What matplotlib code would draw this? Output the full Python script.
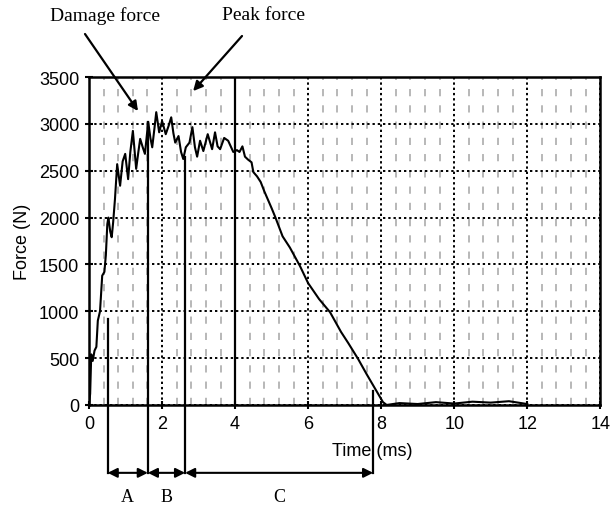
import numpy as np
import matplotlib; matplotlib.use("Agg")
import matplotlib.pyplot as plt

# force trace (time in ms, force in N)
t_ms = [0.0, 0.03, 0.06, 0.10, 0.15, 0.20, 0.24, 0.30, 0.36, 0.42, 0.46, 0.50, 0.53, 0.58, 0.62, 0.66,
        0.71, 0.77, 0.85, 0.92, 0.99, 1.07, 1.13, 1.20, 1.29, 1.35, 1.40, 1.47, 1.53, 1.62, 1.68, 1.73,
        1.79, 1.84, 1.92, 2.00, 2.10, 2.18, 2.25, 2.31, 2.36, 2.45, 2.52, 2.58, 2.65, 2.75, 2.83, 2.90,
        2.96, 3.04, 3.13, 3.25, 3.37, 3.45, 3.52, 3.59, 3.70, 3.81, 3.88, 3.95, 4.05, 4.12, 4.20, 4.27,
        4.35, 4.45, 4.50, 4.60, 4.70, 4.80, 5.00, 5.10, 5.30, 5.50, 5.78, 6.00, 6.30, 6.60, 6.90, 7.10,
        7.37, 7.60, 7.84, 8.05, 8.15, 8.50, 9.00, 9.50, 10.0, 10.5, 11.0, 11.5, 12.0]
force = [0, 120, 540, 470, 580, 620, 900, 1000, 1380, 1420, 1600, 1930, 2000, 1850, 1790, 1950,
         2200, 2570, 2340, 2600, 2680, 2410, 2700, 2925, 2520, 2700, 2840, 2750, 2680, 3020, 2850, 2750,
         2950, 3125, 2910, 3030, 2890, 2980, 3070, 2900, 2800, 2870, 2700, 2625, 2750, 2800, 2965, 2750,
         2650, 2820, 2710, 2890, 2730, 2910, 2760, 2730, 2850, 2820, 2760, 2700, 2720, 2700, 2760, 2650,
         2620, 2590, 2485, 2440, 2380, 2280, 2100, 2005, 1800, 1680, 1480, 1300, 1130, 990, 780, 660,
         490, 330, 170, 30, 0, 20, 10, 30, 15, 35, 25, 40, 10]

# vertical marker lines: (time, force where the line starts)
mark_t = [0.51, 1.61, 2.63, 7.78]
mark_f = [918, 3020, 2650, 150]
seg_labels = ["A", "B", "C"]

fig = plt.figure(figsize=(6.1, 5.1), dpi=100)
ax = fig.add_axes([0.146, 0.204, 0.838, 0.643])
sans = ["Liberation Sans", "DejaVu Sans"]
serif = ["Liberation Serif", "DejaVu Serif"]

# faint scan streaks every 0.4 ms
for x in np.arange(0.4, 14, 0.4):
    if abs(x / 2 - round(x / 2)) > 0.01:
        ax.axvline(x, color="0.45", lw=1.3, ls=(0, (4, 5)), alpha=0.55, zorder=1)
ax.set_xlim(0, 14); ax.set_ylim(0, 3500)
ax.set_xticks(range(0, 15, 2)); ax.set_yticks(range(0, 3501, 500))
ax.grid(True, color="black", ls=(0, (1.2, 1.5)), lw=1.4, zorder=2)
ax.axvline(4, color="black", lw=1.6, zorder=3)
ax.plot(t_ms, force, color="black", lw=1.5, zorder=4)
for s in ax.spines.values(): s.set_linewidth(1.8)
ax.tick_params(direction="inout", length=6, width=1.5, labelsize=13, pad=4)
for lab in ax.get_xticklabels() + ax.get_yticklabels(): lab.set_family(sans)
ax.set_ylabel("Force (N)", fontsize=13, family=sans, labelpad=6)
fig.text(372 / 610, 1 - 452 / 510, "Time (ms)", fontsize=13, family=sans, ha="center", va="center")

# marker lines running below the axes, with A / B / C spans
yrow = -0.207 * 3500
for x, f in zip(mark_t, mark_f):
    ax.plot([x, x], [f, yrow], color="black", lw=1.6, clip_on=False, zorder=5)
for i, lab in enumerate(seg_labels):
    ax.annotate("", xy=(mark_t[i + 1], yrow), xytext=(mark_t[i], yrow), annotation_clip=False,
                arrowprops=dict(arrowstyle="<|-|>", color="black", lw=1.5, shrinkA=0, shrinkB=0, mutation_scale=14))
    ax.text((mark_t[i] + mark_t[i + 1]) / 2, -0.28 * 3500, lab, fontsize=13, family=serif,
            ha="center", va="center", clip_on=False)

# callouts above the plot
fig.text(105 / 610, 1 - 16 / 510, "Damage force", fontsize=14, family=serif, ha="center", va="center")
fig.text(263 / 610, 1 - 16 / 510, "Peak force", fontsize=14, family=serif, ha="center", va="center")
ax.annotate("", xy=(1.34, 3137), xytext=(85 / 610, 1 - 35 / 510), textcoords="figure fraction",
            annotation_clip=False, arrowprops=dict(arrowstyle="-|>", color="black", lw=1.6, shrinkA=0, shrinkB=0, mutation_scale=14))
ax.annotate("", xy=(2.85, 3350), xytext=(242 / 610, 1 - 37 / 510), textcoords="figure fraction",
            annotation_clip=False, arrowprops=dict(arrowstyle="-|>", color="black", lw=1.6, shrinkA=0, shrinkB=0, mutation_scale=14))

fig.savefig("out.png", dpi=100)
